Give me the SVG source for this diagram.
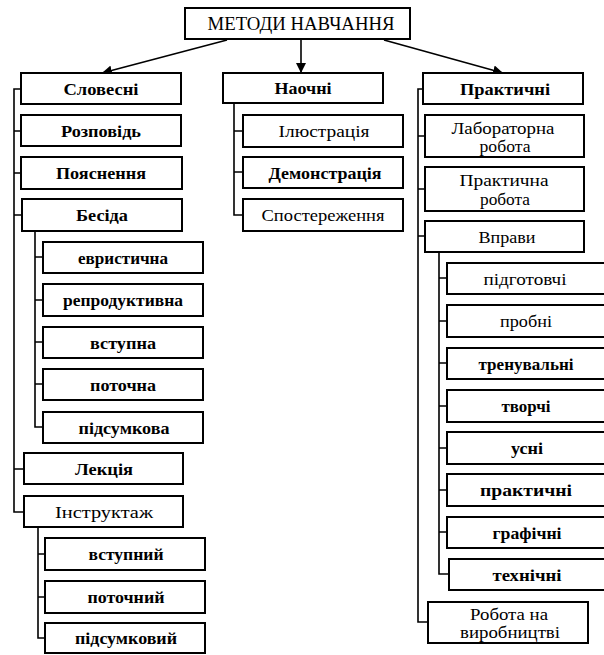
<svg xmlns="http://www.w3.org/2000/svg" width="604" height="655" viewBox="0 0 604 655">
<style>
.b{fill:#fff;stroke:#000;stroke-width:2}
.t{font-family:"Liberation Serif","Times New Roman",serif;font-size:16px;text-anchor:middle;dominant-baseline:central;fill:#000}
.bd{font-weight:bold}
.c{fill:none;stroke:#000;stroke-width:1.6}
</style>
<defs>
<marker id="ah" viewBox="0 0 10 10" refX="10" refY="5" markerWidth="10" markerHeight="10" markerUnits="userSpaceOnUse" orient="auto">
<path d="M0,0 L10,5 L0,10 z" fill="#000"/>
</marker>
</defs>
<rect width="604" height="655" fill="#fff"/>
<g id="connectors">
<line class="c" x1="227" y1="40" x2="102" y2="73" marker-end="url(#ah)"/>
<line class="c" x1="301" y1="40" x2="301" y2="73" marker-end="url(#ah)"/>
<line class="c" x1="384" y1="40" x2="503" y2="73" marker-end="url(#ah)"/>
<path class="c" d="M21,89 H14 V512 H24 M14,131 H21 M14,173 H21 M14,215 H22 M14,469 H24"/>
<path class="c" d="M35,231 V427 H43 M35,257 H43 M35,300 H43 M35,342 H43 M35,384 H43"/>
<path class="c" d="M38,527 V638 H45 M38,554 H45 M38,597 H45"/>
<path class="c" d="M234,103 V215 H243 M234,131 H243 M234,172 H243"/>
<path class="c" d="M423,89 H418 V622 H428 M418,136 H425 M418,189 H425 M418,236 H425"/>
<path class="c" d="M439,252 V574 H449 M439,278 H447 M439,321 H447 M439,363 H447 M439,406 H447 M439,448 H447 M439,490 H447 M439,532 H447"/>
</g>
<g id="n-root"><rect class="b" x="185" y="8" width="225" height="31"/><text class="t" x="301" y="24" style="font-size:18px" textLength="187" lengthAdjust="spacingAndGlyphs">МЕТОДИ НАВЧАННЯ</text></g>
<g id="n-slovesni"><rect class="b" x="21" y="73" width="160" height="31"/><text class="t bd" x="101" y="89" textLength="75" lengthAdjust="spacingAndGlyphs">Словесні</text></g>
<g id="n-rozpovid"><rect class="b" x="21" y="115" width="160" height="31"/><text class="t bd" x="101" y="131" textLength="80" lengthAdjust="spacingAndGlyphs">Розповідь</text></g>
<g id="n-poyasnennya"><rect class="b" x="21" y="157" width="161" height="32"/><text class="t bd" x="101" y="173" textLength="90" lengthAdjust="spacingAndGlyphs">Пояснення</text></g>
<g id="n-besida"><rect class="b" x="22" y="199" width="160" height="32"/><text class="t bd" x="102" y="215" textLength="52" lengthAdjust="spacingAndGlyphs">Бесіда</text></g>
<g id="n-evrystychna"><rect class="b" x="43" y="242" width="160" height="31"/><text class="t bd" x="123" y="258" textLength="90" lengthAdjust="spacingAndGlyphs">евристична</text></g>
<g id="n-reproduktyvna"><rect class="b" x="43" y="284" width="160" height="32"/><text class="t bd" x="123" y="300" textLength="120" lengthAdjust="spacingAndGlyphs">репродуктивна</text></g>
<g id="n-vstupna"><rect class="b" x="43" y="327" width="160" height="31"/><text class="t bd" x="123" y="343" textLength="66" lengthAdjust="spacingAndGlyphs">вступна</text></g>
<g id="n-potochna"><rect class="b" x="43" y="369" width="160" height="31"/><text class="t bd" x="123" y="385" textLength="66" lengthAdjust="spacingAndGlyphs">поточна</text></g>
<g id="n-pidsumkova"><rect class="b" x="43" y="412" width="160" height="31"/><text class="t bd" x="124" y="428" textLength="91" lengthAdjust="spacingAndGlyphs">підсумкова</text></g>
<g id="n-lektsiya"><rect class="b" x="24" y="453" width="159" height="31"/><text class="t bd" x="104" y="469" textLength="58" lengthAdjust="spacingAndGlyphs">Лекція</text></g>
<g id="n-instruktazh"><rect class="b" x="24" y="496" width="159" height="31"/><text class="t" x="104" y="512" textLength="98" lengthAdjust="spacingAndGlyphs">Інструктаж</text></g>
<g id="n-vstupnyi"><rect class="b" x="45" y="538" width="160" height="32"/><text class="t bd" x="126" y="554" textLength="75" lengthAdjust="spacingAndGlyphs">вступний</text></g>
<g id="n-potochnyi"><rect class="b" x="45" y="581" width="160" height="32"/><text class="t bd" x="126" y="597" textLength="77" lengthAdjust="spacingAndGlyphs">поточний</text></g>
<g id="n-pidsumkovyi"><rect class="b" x="45" y="623" width="160" height="30"/><text class="t bd" x="126" y="638" textLength="102" lengthAdjust="spacingAndGlyphs">підсумковий</text></g>
<g id="n-naochni"><rect class="b" x="223" y="73" width="160" height="30"/><text class="t bd" x="303" y="88" textLength="57" lengthAdjust="spacingAndGlyphs">Наочні</text></g>
<g id="n-ilyustratsiya"><rect class="b" x="243" y="115" width="160" height="32"/><text class="t" x="324" y="131" textLength="91" lengthAdjust="spacingAndGlyphs">Ілюстрація</text></g>
<g id="n-demonstratsiya"><rect class="b" x="243" y="157" width="160" height="31"/><text class="t bd" x="325" y="173" textLength="113" lengthAdjust="spacingAndGlyphs">Демонстрація</text></g>
<g id="n-sposterezhennya"><rect class="b" x="243" y="199" width="160" height="32"/><text class="t" x="323" y="215" textLength="123" lengthAdjust="spacingAndGlyphs">Спостереження</text></g>
<g id="n-praktychni"><rect class="b" x="423" y="73" width="160" height="31"/><text class="t bd" x="505" y="89" textLength="90" lengthAdjust="spacingAndGlyphs">Практичні</text></g>
<g id="n-laboratorna"><rect class="b" x="425" y="115" width="159" height="42"/><text class="t" x="503" y="128" textLength="103" lengthAdjust="spacingAndGlyphs">Лабораторна</text><text class="t" x="505" y="146" textLength="51" lengthAdjust="spacingAndGlyphs">робота</text></g>
<g id="n-praktychna"><rect class="b" x="425" y="167" width="159" height="44"/><text class="t" x="504" y="180" textLength="89" lengthAdjust="spacingAndGlyphs">Практична</text><text class="t" x="505" y="199" textLength="50" lengthAdjust="spacingAndGlyphs">робота</text></g>
<g id="n-vpravy"><rect class="b" x="425" y="221" width="159" height="31"/><text class="t" x="507" y="237" textLength="57" lengthAdjust="spacingAndGlyphs">Вправи</text></g>
<g id="n-pidhotovchi"><rect class="b" x="447" y="263" width="160" height="31"/><text class="t" x="525" y="279" textLength="83" lengthAdjust="spacingAndGlyphs">підготовчі</text></g>
<g id="n-probni"><rect class="b" x="447" y="305" width="160" height="32"/><text class="t" x="526" y="321" textLength="52" lengthAdjust="spacingAndGlyphs">пробні</text></g>
<g id="n-trenuvalni"><rect class="b" x="447" y="348" width="160" height="31"/><text class="t bd" x="526" y="364" textLength="95" lengthAdjust="spacingAndGlyphs">тренувальні</text></g>
<g id="n-tvorchi"><rect class="b" x="447" y="390" width="160" height="32"/><text class="t bd" x="526" y="406" textLength="49" lengthAdjust="spacingAndGlyphs">творчі</text></g>
<g id="n-usni"><rect class="b" x="447" y="432" width="160" height="32"/><text class="t bd" x="527" y="448" textLength="32" lengthAdjust="spacingAndGlyphs">усні</text></g>
<g id="n-praktychni2"><rect class="b" x="447" y="474" width="160" height="32"/><text class="t bd" x="526" y="490" textLength="92" lengthAdjust="spacingAndGlyphs">практичні</text></g>
<g id="n-hrafichni"><rect class="b" x="447" y="517" width="160" height="31"/><text class="t bd" x="527" y="533" textLength="69" lengthAdjust="spacingAndGlyphs">графічні</text></g>
<g id="n-tekhnichni"><rect class="b" x="449" y="559" width="160" height="31"/><text class="t bd" x="527" y="575" textLength="69" lengthAdjust="spacingAndGlyphs">технічні</text></g>
<g id="n-robota"><rect class="b" x="428" y="602" width="160" height="41"/><text class="t" x="509" y="614" textLength="78" lengthAdjust="spacingAndGlyphs">Робота на</text><text class="t" x="510" y="632" textLength="100" lengthAdjust="spacingAndGlyphs">виробництві</text></g>
</svg>
